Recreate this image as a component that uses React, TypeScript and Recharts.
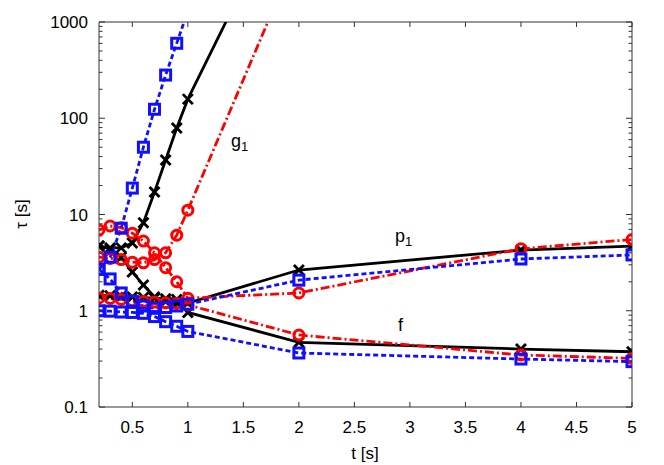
import { LineChart, Line, XAxis, YAxis, ReferenceLine } from "recharts";

// time axis samples
const tValues = [0.2, 0.3, 0.4, 0.5, 0.6, 0.7, 0.8, 0.9, 1, 2, 4, 5];

// black (solid, x markers)
const blackG1 = [4.7, 4.5, 4.5, 5.06, 8.2, 17.1, 36.8, 79, 158, 34500];
const blackP1 = [4.7, 4.4, 3.6, 2.53, 1.85, 1.39, 1.25, 1.2, 1.2, 2.65, 4.27, 4.7];
const blackF = [1.45, 1.43, 1.41, 1.39, 1.37, 1.35, 1.33, 1.31, 0.96, 0.47, 0.4, 0.375];

// red (dash-dot, circles)
const redG1 = [3.6, 3.5, 3.4, 3.2, 3.15, 3.4, 4.0, 6.1, 11.1, 5730];
const redP1 = [6.9, 7.6, 7.3, 6.4, 5.3, 4.0, 2.8, 2.0, 1.35, 1.53, 4.4, 5.5];
const redF = [1.36, 1.34, 1.31, 1.27, 1.25, 1.23, 1.21, 1.19, 1.15, 0.56, 0.347, 0.32];

// blue (dotted, squares)
const blueG1 = [2.7, 3.6, 7.2, 18.8, 50, 124, 281, 601, 1300];
const blueP1 = [2.7, 2.14, 1.53, 1.25, 1.12, 1.06, 1.08, 1.12, 1.17, 2.08, 3.45, 3.8];
const blueF = [1.0, 0.99, 0.97, 0.96, 0.94, 0.87, 0.77, 0.69, 0.61, 0.364, 0.315, 0.296];

const xTicks = [0.5, 1, 1.5, 2, 2.5, 3, 3.5, 4, 4.5, 5];
const yTicks = [0.1, 1, 10, 100, 1000];
const yMinorTicks = [0.1, 1, 10, 100].flatMap((d) =>
  [2, 3, 4, 5, 6, 7, 8, 9].map((m) => +(d * m).toPrecision(3))
);

const BLACK = "#000000";
const RED = "#ff0000";
const BLUE = "#1010ff";
const FONT = "'Liberation Sans', Arial, sans-serif";

const X_MIN = 0.2;
const X_MAX = 5;
const Y_MIN = 0.1;
const Y_MAX = 1000;

type MarkerKind = "cross" | "circle" | "square";

const toPoints = (vals: number[]) => vals.map((v, i) => ({ t: tValues[i], v }));

const series = [
  { id: "bg1", data: toPoints(blackG1), color: BLACK, dash: undefined, marker: "cross" as MarkerKind },
  { id: "bp1", data: toPoints(blackP1), color: BLACK, dash: undefined, marker: "cross" as MarkerKind },
  { id: "bf", data: toPoints(blackF), color: BLACK, dash: undefined, marker: "cross" as MarkerKind },
  { id: "rg1", data: toPoints(redG1), color: RED, dash: "9 3 2 3", marker: "circle" as MarkerKind },
  { id: "rp1", data: toPoints(redP1), color: RED, dash: "9 3 2 3", marker: "circle" as MarkerKind },
  { id: "rf", data: toPoints(redF), color: RED, dash: "9 3 2 3", marker: "circle" as MarkerKind },
  { id: "ug1", data: toPoints(blueG1), color: BLUE, dash: "5 3", marker: "square" as MarkerKind },
  { id: "up1", data: toPoints(blueP1), color: BLUE, dash: "5 3", marker: "square" as MarkerKind },
  { id: "uf", data: toPoints(blueF), color: BLUE, dash: "5 3", marker: "square" as MarkerKind },
];

const makeDot = (kind: MarkerKind, color: string, id: string) => (props: any) => {
  const { cx, cy, index } = props;
  const key = `${id}-${index}`;
  if (cx == null || cy == null) return <g key={key} />;
  const s = 5;
  if (kind === "square") {
    return (
      <rect key={key} x={cx - s} y={cy - s} width={2 * s} height={2 * s}
        fill="none" stroke={color} strokeWidth={3} strokeDasharray="none" />
    );
  }
  if (kind === "circle") {
    return (
      <circle key={key} cx={cx} cy={cy} r={s} fill="none" stroke={color}
        strokeWidth={3} strokeDasharray="none" />
    );
  }
  return (
    <g key={key} stroke={color} strokeWidth={2.8}>
      <line x1={cx - s} y1={cy - s} x2={cx + s} y2={cy + s} />
      <line x1={cx - s} y1={cy + s} x2={cx + s} y2={cy - s} />
    </g>
  );
};

// inward tick lengths in data units
const xMajorLen = 6 / 111;
const xMinorLen = 3.5 / 111;
const yTickFactor = Math.pow(10, 5 / 96.25);

export default function App() {
  return (
    <div style={{ position: "absolute", left: 0, top: 0, width: 664, height: 465, background: "#fff" }}>
      <LineChart
        width={664}
        height={465}
        margin={{ top: 22, right: 32, bottom: 0, left: 0 }}
        style={{ fontFamily: FONT }}
      >
        <XAxis
          type="number"
          dataKey="t"
          domain={[X_MIN, X_MAX]}
          ticks={xTicks}
          allowDataOverflow
          height={58}
          tickLine={false}
          tickSize={6}
          tickMargin={8}
          axisLine={{ stroke: "#333", strokeWidth: 1 }}
          tick={{ fill: "#000", fontSize: 17, fontFamily: FONT }}
        />
        <YAxis
          type="number"
          dataKey="v"
          scale="log"
          domain={[Y_MIN, Y_MAX]}
          ticks={yTicks}
          allowDataOverflow
          width={99}
          tickLine={false}
          tickSize={6}
          tickMargin={5}
          axisLine={{ stroke: "#333", strokeWidth: 1 }}
          tick={{ fill: "#000", fontSize: 17, fontFamily: FONT }}
          tickFormatter={(v: number) => String(v)}
        />

        {/* frame: top and right */}
        <ReferenceLine y={Y_MAX} stroke="#333" strokeWidth={1} ifOverflow="visible" />
        <ReferenceLine x={X_MAX} stroke="#333" strokeWidth={1} ifOverflow="visible" />

        {/* y ticks, both sides, pointing in */}
        {yTicks.map((v) => (
          <ReferenceLine key={`yl${v}`} segment={[{ x: X_MIN, y: v }, { x: X_MIN + xMajorLen, y: v }]}
            stroke="#333" ifOverflow="visible" />
        ))}
        {yTicks.map((v) => (
          <ReferenceLine key={`yr${v}`} segment={[{ x: X_MAX - xMajorLen, y: v }, { x: X_MAX, y: v }]}
            stroke="#333" ifOverflow="visible" />
        ))}
        {yMinorTicks.map((v) => (
          <ReferenceLine key={`yml${v}`} segment={[{ x: X_MIN, y: v }, { x: X_MIN + xMinorLen, y: v }]}
            stroke="#333" ifOverflow="visible" />
        ))}
        {yMinorTicks.map((v) => (
          <ReferenceLine key={`ymr${v}`} segment={[{ x: X_MAX - xMinorLen, y: v }, { x: X_MAX, y: v }]}
            stroke="#333" ifOverflow="visible" />
        ))}
        {/* x ticks, bottom and top */}
        {xTicks.map((t) => (
          <ReferenceLine key={`xb${t}`} segment={[{ x: t, y: Y_MIN }, { x: t, y: Y_MIN * yTickFactor }]}
            stroke="#333" ifOverflow="visible" />
        ))}
        {xTicks.map((t) => (
          <ReferenceLine key={`xt${t}`} segment={[{ x: t, y: Y_MAX / yTickFactor }, { x: t, y: Y_MAX }]}
            stroke="#333" ifOverflow="visible" />
        ))}

        {series.map((s) => (
          <Line
            key={s.id}
            data={s.data}
            dataKey="v"
            type="linear"
            stroke={s.color}
            strokeWidth={2.8}
            strokeDasharray={s.dash}
            dot={makeDot(s.marker, s.color, s.id)}
            activeDot={false}
            isAnimationActive={false}
          />
        ))}
      </LineChart>

      <svg width={664} height={465} style={{ position: "absolute", left: 0, top: 0, pointerEvents: "none" }}
        fontFamily={FONT} fill="#000">
        <text x={231} y={147} fontSize={18}>g<tspan fontSize={13} dy={4}>1</tspan></text>
        <text x={395} y={242} fontSize={18}>p<tspan fontSize={13} dy={4}>1</tspan></text>
        <text x={398} y={331} fontSize={18}>f</text>
        <text x={365} y={459} fontSize={17} textAnchor="middle">t [s]</text>
        <text transform="translate(27 214) rotate(-90)" fontSize={17} textAnchor="middle">τ [s]</text>
      </svg>
    </div>
  );
}
